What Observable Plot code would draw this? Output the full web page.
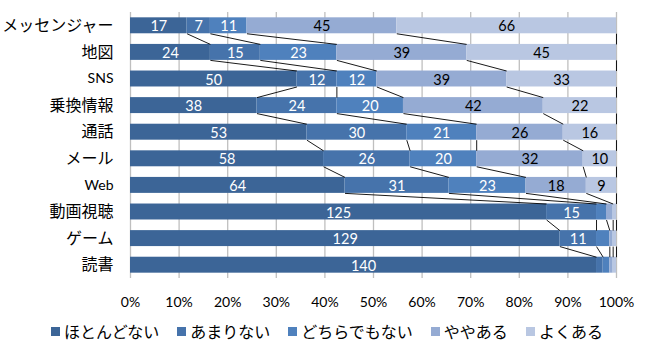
<!DOCTYPE html>
<html>
<head>
<meta charset="utf-8">
<script src="https://cdn.jsdelivr.net/npm/d3@7"></script>
<script src="https://cdn.jsdelivr.net/npm/@observablehq/plot@0.6"></script>
<style>
  body { margin: 0; background: #fff; font-family: Lato, "Noto Sans CJK JP", sans-serif; }
  #legend { display: flex; justify-content: center; align-items: center; font-size: 16px; margin-top: 1px; margin-left: 6px; color: #000; }
  #legend .item { display: flex; align-items: center; margin: 0 9px; }
  #legend .sw { width: 9px; height: 9px; margin-right: 4px; }
</style>
</head>
<body>
<div id="chart"></div>
<div id="legend"></div>
<script>
const categories = ["メッセンジャー","地図","SNS","乗換情報","通話","メール","Web","動画視聴","ゲーム","読書"];
const series = ["ほとんどない","あまりない","どちらでもない","ややある","よくある"];
const hotondonai = [17,24,50,38,53,58,64,125,129,140];
const amarinai   = [7,15,12,24,30,26,31,15,11,2];
const dochiramo  = [11,23,12,20,21,20,23,3,4,2];
const yayaaru    = [45,39,39,42,26,32,18,2,1,1];
const yokuaru    = [66,45,33,22,16,10,9,1,1,1];
const xTicks = [0,0.1,0.2,0.3,0.4,0.5,0.6,0.7,0.8,0.9,1];
const colors = ["#3C6597","#4673AB","#4F81BD","#95ABD3","#B9C7E2"];

const seriesValues = [hotondonai, amarinai, dochiramo, yayaaru, yokuaru];

const segs = [];
const cums = [];
categories.forEach((c, i) => {
  const total = d3.sum(seriesValues, s => s[i]);
  let acc = 0;
  const cum = [0];
  seriesValues.forEach((s, k) => {
    const v = s[i];
    segs.push({cat: c, i, k, s: series[k], v, x1: acc / total, x2: (acc + v) / total});
    acc += v;
    cum.push(acc / total);
  });
  cums.push(cum);
});

const links = [];
for (let i = 0; i < categories.length - 1; i++) {
  for (let k = 1; k <= 5; k++) {
    links.push({x1: cums[i][k], y1: i + 0.3, x2: cums[i + 1][k], y2: i + 1 - 0.3});
  }
}

const catData = categories.map((name, i) => ({name, i}));

const chart = Plot.plot({
  width: 648,
  height: 318,
  marginLeft: 130,
  marginRight: 32,
  marginTop: 12,
  marginBottom: 40,
  style: {fontFamily: 'Lato, "Noto Sans CJK JP", sans-serif', background: "#fff"},
  x: {domain: [0, 1], axis: null},
  y: {domain: [-0.5, categories.length - 0.5], reverse: true, axis: null},
  color: {domain: series, range: colors},
  marks: [
    Plot.gridX(xTicks, {stroke: "#BFBFBF", strokeOpacity: 1, strokeWidth: 1.3}),
    Plot.rect(segs, {x1: "x1", x2: "x2", y1: d => d.i - 0.3, y2: d => d.i + 0.3, fill: "s"}),
    Plot.link(links, {x1: "x1", y1: "y1", x2: "x2", y2: "y2", stroke: "#000", strokeWidth: 0.9}),
    Plot.text(segs.filter(d => d.v >= 5), {
      x: d => (d.x1 + d.x2) / 2, y: "i", text: d => String(d.v),
      fill: d => d.k < 3 ? "#fff" : "#000", fontSize: 14.5, dy: 1
    }),
    Plot.text(catData, {
      y: "i", frameAnchor: "left", dx: -17, textAnchor: "end", text: "name",
      fontSize: d => /^[A-Za-z]+$/.test(d.name) ? 14 : 16, fill: "#000"
    }),
    Plot.axisX(xTicks, {tickSize: 0, tickPadding: 19, tickFormat: d3.format(".0%"), fontSize: 14, color: "#000"})
  ]
});
document.getElementById("chart").appendChild(chart);

const legend = document.getElementById("legend");
series.forEach((s, k) => {
  const item = document.createElement("div");
  item.className = "item";
  const sw = document.createElement("div");
  sw.className = "sw";
  sw.style.background = colors[k];
  const t = document.createElement("span");
  t.textContent = s;
  item.appendChild(sw);
  item.appendChild(t);
  legend.appendChild(item);
});
</script>
</body>
</html>
